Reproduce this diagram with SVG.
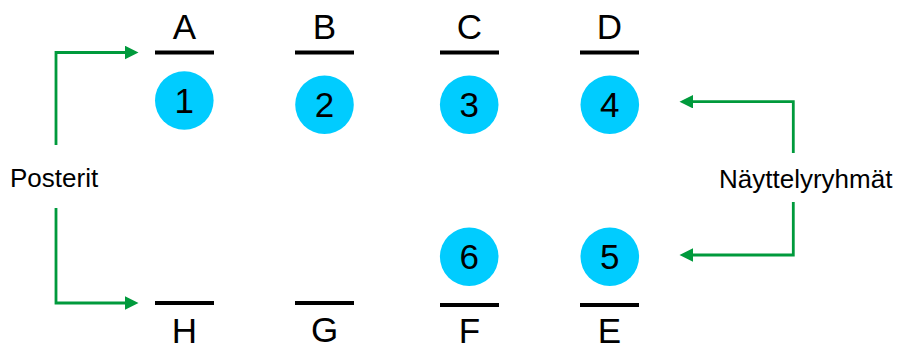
<svg xmlns="http://www.w3.org/2000/svg" width="903" height="344" viewBox="0 0 903 344">
<style>
.c{fill:#00CCFF}
.n{font-family:"Liberation Sans",Arial,sans-serif;font-size:35px;fill:#000;text-anchor:middle}
.t{font-family:"Liberation Sans",Arial,sans-serif;font-size:26px;fill:#000}
.bar{stroke:#000;stroke-width:4}
.g{fill:none;stroke:#009A3C;stroke-width:2.8}
</style>
<defs>
<marker id="ah" markerUnits="userSpaceOnUse" markerWidth="15" markerHeight="15" refX="6" refY="6.75" orient="auto">
<path d="M0,0 L13.5,6.75 L0,13.5 z" fill="#009A3C"/>
</marker>
</defs>
<rect width="903" height="344" fill="#fff"/>
<g id="slotA"><text class="n" x="184.5" y="39">A</text><line class="bar" x1="155" y1="52.5" x2="214" y2="52.5"/></g>
<g id="slotB"><text class="n" x="324.5" y="39">B</text><line class="bar" x1="295" y1="52.5" x2="354" y2="52.5"/></g>
<g id="slotC"><text class="n" x="469.5" y="39">C</text><line class="bar" x1="440" y1="52.5" x2="499" y2="52.5"/></g>
<g id="slotD"><text class="n" x="609.5" y="39">D</text><line class="bar" x1="580" y1="52.5" x2="639" y2="52.5"/></g>
<g id="slotH"><line class="bar" x1="155" y1="303" x2="214" y2="303"/><text class="n" x="184.5" y="343">H</text></g>
<g id="slotG"><line class="bar" x1="295" y1="303" x2="354" y2="303"/><text class="n" x="324.5" y="342">G</text></g>
<g id="slotF"><line class="bar" x1="440" y1="305" x2="499" y2="305"/><text class="n" x="469.5" y="343">F</text></g>
<g id="slotE"><line class="bar" x1="580" y1="305" x2="639" y2="305"/><text class="n" x="609.5" y="343">E</text></g>
<g id="n1"><circle class="c" cx="184.3" cy="100.5" r="29.3"/><text class="n" x="184.3" y="113.3">1</text></g>
<g id="n2"><circle class="c" cx="324.5" cy="104.7" r="29.3"/><text class="n" x="324.5" y="116.7">2</text></g>
<g id="n3"><circle class="c" cx="469.2" cy="104.7" r="29.3"/><text class="n" x="469.2" y="116.7">3</text></g>
<g id="n4"><circle class="c" cx="609.8" cy="104.7" r="29.3"/><text class="n" x="609.8" y="116.7">4</text></g>
<g id="n6"><circle class="c" cx="469.2" cy="256.7" r="29.3"/><text class="n" x="469.2" y="269">6</text></g>
<g id="n5"><circle class="c" cx="609.8" cy="256.7" r="29.3"/><text class="n" x="609.8" y="269">5</text></g>
<g id="posterit"><text class="t" x="10" y="187">Posterit</text></g>
<g id="nayttely"><text class="t" x="719" y="188">Näyttelyryhmät</text></g>
<g id="connectors">
<path class="g" d="M56,145 V52.5 H131" marker-end="url(#ah)"/>
<path class="g" d="M56,208 V303 H131" marker-end="url(#ah)"/>
<path class="g" d="M793.3,153 V101.7 H687" marker-end="url(#ah)"/>
<path class="g" d="M793.3,202 V255 H687" marker-end="url(#ah)"/>
</g>
</svg>
